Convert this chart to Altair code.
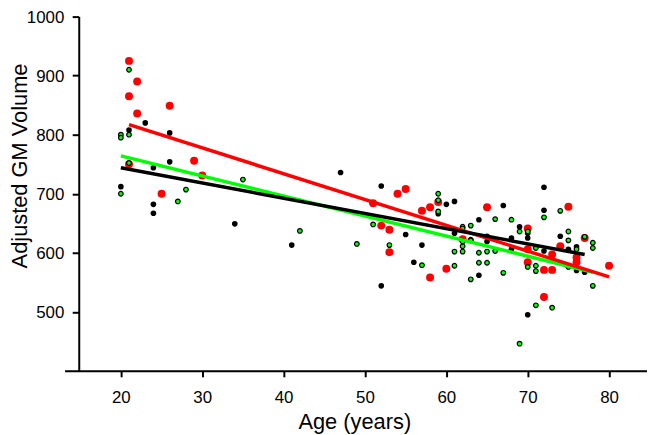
import altair as alt
import pandas as pd

# ---- data ----
red_age = [21, 22, 21, 22, 26, 21, 29, 30, 25,
           51, 54, 55, 52, 53, 53, 57, 58, 59, 60, 58, 65, 62,
           70, 70, 70, 72, 73, 72, 73, 74, 75, 76, 76, 77, 80]
red_vol = [925, 890, 865, 836, 849, 750, 756, 731, 700,
           684, 700, 708, 646, 639, 601, 671, 677, 686, 573, 558, 677, 623,
           641, 606, 584, 571, 571, 525, 597, 611, 678, 592, 584, 625, 578]

black_age = [23, 21, 26, 26, 24, 20, 24, 24, 34, 47, 41,
             52, 60, 61, 59, 55, 57, 56, 52, 61, 64, 64, 65, 65,
             67, 68, 68, 69, 70, 70, 72, 72, 70, 72, 74, 75, 76, 77, 76]
black_vol = [820, 808, 803, 754, 744, 712, 682, 667, 649, 736, 613,
             713, 682, 687, 666, 631, 613, 584, 544, 633, 656, 562, 628, 619,
             680, 625, 606, 644, 633, 625, 711, 672, 495, 603, 628, 606, 570, 567, 610]

green_age = [21, 20, 20, 21, 21, 20, 27, 28, 35, 42,
             59, 59, 59, 51, 49, 53, 57, 61, 62, 62, 62, 61, 62, 63, 63, 64, 64, 65, 65, 63, 66, 66, 62, 63,
             67, 68, 69, 70, 70, 71, 71, 72, 71, 73, 69, 71, 74, 75, 75, 75, 76, 77, 78, 78, 78]
green_vol = [910, 800, 795, 800, 752, 700, 687, 707, 724, 637,
             700, 689, 670, 648, 615, 613, 579, 602, 602, 611, 619, 578, 644, 646, 622, 600, 583, 602, 583, 555, 657, 603, 641, 621,
             566, 656, 636, 636, 576, 578, 569, 660, 511, 507, 446, 608, 671, 636, 621, 576, 606, 627, 617, 608, 544]

# fitted lines (end points)
red_line_age = [21, 80]
red_line_vol = [817, 559]
green_line_age = [20, 78]
green_line_vol = [764, 567]
black_line_age = [20, 77]
black_line_vol = [744, 597]

x_ticks = [20, 30, 40, 50, 60, 70, 80]
y_ticks = [500, 600, 700, 800, 900, 1000]

FONT = "Liberation Sans"

x_scale = alt.Scale(domain=[13.08, 84.66], nice=False, zero=False)
y_scale = alt.Scale(domain=[400, 1000], nice=False, zero=False)

x_axis = alt.Axis(values=x_ticks, title="Age (years)", grid=False, format="d",
                  tickSize=6, labelPadding=13.3, labelFontSize=17,
                  titleFontSize=22, titleX=292, titleY=57.7,
                  titleBaseline="alphabetic", titleAlign="center")
y_axis = alt.Axis(values=y_ticks, title="Adjusted GM Volume", grid=False, format="d",
                  offset=-14.3, tickSize=6.6, labelPadding=8.4, labelFontSize=17,
                  labelOffset=1,
                  titleFontSize=22, titleX=-52.5, titleY=150, titleAngle=270,
                  titleBaseline="alphabetic", titleAlign="center")


def pts(ages, vols):
    return pd.DataFrame({"age": ages, "vol": vols})


def enc(chart):
    return chart.encode(x=alt.X("age:Q", scale=x_scale, axis=x_axis),
                        y=alt.Y("vol:Q", scale=y_scale, axis=y_axis))


red_pts = enc(alt.Chart(pts(red_age, red_vol)).mark_circle(
    size=64, color="#ff0000", opacity=1))
black_pts = enc(alt.Chart(pts(black_age, black_vol)).mark_circle(
    size=32, color="#000000", opacity=1))
green_pts = enc(alt.Chart(pts(green_age, green_vol)).mark_point(
    shape="circle", size=22, filled=True, fill="#00ff00", stroke="#000000",
    strokeWidth=1.2, opacity=1))

green_line = enc(alt.Chart(pts(green_line_age, green_line_vol)).mark_line(
    color="#00ff00", strokeWidth=3.5))
red_line = enc(alt.Chart(pts(red_line_age, red_line_vol)).mark_line(
    color="#ff0000", strokeWidth=3.5))
black_line = enc(alt.Chart(pts(black_line_age, black_line_vol)).mark_line(
    color="#000000", strokeWidth=3.5))

chart = alt.layer(red_pts, black_pts, green_pts, green_line, red_line, black_line).properties(
    width=587, height=357,
    autosize=alt.AutoSizeParams(type="none"),
    padding={"left": 57, "top": 7, "right": 0, "bottom": 64},
).configure_view(stroke=None).configure_axis(
    domainColor="#000000", domainWidth=2, tickColor="#000000", tickWidth=2,
    labelColor="#000000", titleColor="#000000", labelFont=FONT, titleFont=FONT,
    titleFontWeight="normal",
)

chart.save("out.html", embed_options={"renderer": "svg", "actions": False})
